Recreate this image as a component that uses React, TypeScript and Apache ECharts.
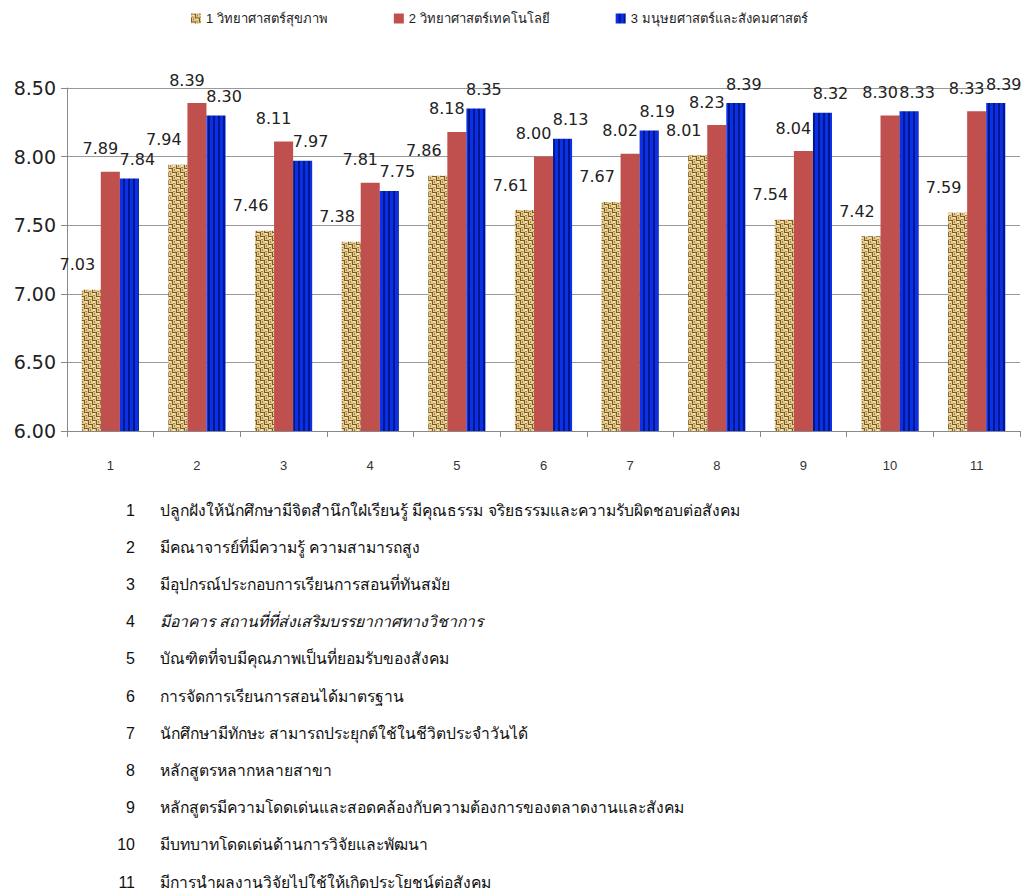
import React, { useEffect, useRef } from "react";
import * as echarts from "echarts";

const categories = ["1", "2", "3", "4", "5", "6", "7", "8", "9", "10", "11"];
const seriesNames = ["1 วิทยาศาสตร์สุขภาพ", "2 วิทยาศาสตร์เทคโนโลยี", "3 มนุษยศาสตร์และสังคมศาสตร์"];
const health = [7.03, 7.94, 7.46, 7.38, 7.86, 7.61, 7.67, 8.01, 7.54, 7.42, 7.59];
const tech = [7.89, 8.39, 8.11, 7.81, 8.18, 8.0, 8.02, 8.23, 8.04, 8.3, 8.33];
const human = [7.84, 8.3, 7.97, 7.75, 8.35, 8.13, 8.19, 8.39, 8.32, 8.33, 8.39];
const yTicks = { min: 6, max: 8.5, interval: 0.5 };
const itemDescriptions = [
  "ปลูกฝังให้นักศึกษามีจิตสำนึกใฝ่เรียนรู้ มีคุณธรรม จริยธรรมและความรับผิดชอบต่อสังคม",
  "มีคณาจารย์ที่มีความรู้ ความสามารถสูง",
  "มีอุปกรณ์ประกอบการเรียนการสอนที่ทันสมัย",
  "มีอาคาร สถานที่ที่ส่งเสริมบรรยากาศทางวิชาการ",
  "บัณฑิตที่จบมีคุณภาพเป็นที่ยอมรับของสังคม",
  "การจัดการเรียนการสอนได้มาตรฐาน",
  "นักศึกษามีทักษะ สามารถประยุกต์ใช้ในชีวิตประจำวันได้",
  "หลักสูตรหลากหลายสาขา",
  "หลักสูตรมีความโดดเด่นและสอดคล้องกับความต้องการของตลาดงานและสังคม",
  "มีบทบาทโดดเด่นด้านการวิจัยและพัฒนา",
  "มีการนำผลงานวิจัยไปใช้ให้เกิดประโยชน์ต่อสังคม",
];

function makeBurlap(): HTMLCanvasElement {
  const c = document.createElement("canvas");
  c.width = 8;
  c.height = 8;
  const g = c.getContext("2d")!;
  g.fillStyle = "#e4c88a";
  g.fillRect(0, 0, 8, 8);
  g.fillStyle = "#f3e2b4";
  g.fillRect(1, 1, 2, 2);
  g.fillRect(5, 5, 2, 2);
  g.fillStyle = "#7a5c26";
  g.fillRect(0, 0, 4, 1);
  g.fillRect(4, 0, 1, 4);
  g.fillRect(4, 4, 4, 1);
  g.fillRect(0, 4, 1, 4);
  g.fillStyle = "#a8884a";
  g.fillRect(6, 1, 1, 2);
  g.fillRect(2, 5, 1, 2);
  g.fillRect(5, 7, 2, 1);
  g.fillRect(1, 3, 2, 1);
  return c;
}

function makeStripes(): HTMLCanvasElement {
  const c = document.createElement("canvas");
  c.width = 5;
  c.height = 4;
  const g = c.getContext("2d")!;
  g.fillStyle = "#0b30e6";
  g.fillRect(0, 0, 5, 4);
  g.fillStyle = "#00188c";
  g.fillRect(3, 0, 2, 4);
  return c;
}

export default function App() {
  const ref = useRef<HTMLDivElement>(null);
  useEffect(() => {
    document.body.style.margin = "0";
    const chart = echarts.init(ref.current!, null, { renderer: "svg" });
    const burlap = { image: makeBurlap(), repeat: "repeat" } as any;
    const stripes = { image: makeStripes(), repeat: "repeat" } as any;
    const labelBase = {
      show: true,
      position: "top",
      fontFamily: "DejaVu Sans",
      fontSize: 16,
      color: "#222",
      formatter: (p: any) => Number(p.value).toFixed(2),
    };
    const listTexts: any[] = [];
    itemDescriptions.forEach((t, i) => {
      const y = 510 + i * 37.2;
      listTexts.push({
        type: "text",
        x: 135,
        y,
        style: {
          text: String(i + 1),
          fontFamily: "Liberation Sans Narrow, Liberation Sans",
          fontSize: 16,
          fill: "#111",
          align: "right",
          verticalAlign: "middle",
        },
      });
      listTexts.push({
        type: "text",
        x: 160,
        y,
        style: {
          text: t,
          fontFamily: "Liberation Sans, sans-serif",
          fontSize: 15.7,
          fontStyle: i === 3 ? "italic" : "normal",
          fill: "#111",
          align: "left",
          verticalAlign: "middle",
        },
      });
    });
    chart.setOption({
      animation: false,
      backgroundColor: "#fff",
      legend: {
        top: 7,
        left: 186,
        itemWidth: 10,
        itemHeight: 10,
        itemGap: 66,
        icon: "rect",
        textStyle: { fontSize: 13, color: "#222", fontFamily: "Liberation Sans, sans-serif" },
        data: seriesNames,
      },
      grid: { left: 67, right: 9, top: 88, bottom: 464 },
      xAxis: {
        type: "category",
        data: categories,
        axisLine: { lineStyle: { color: "#888" } },
        axisTick: { show: true, alignWithLabel: false, length: 6, lineStyle: { color: "#888" } },
        axisLabel: { margin: 28, fontSize: 13, color: "#333", fontFamily: "Liberation Sans Narrow, Liberation Sans" },
      },
      yAxis: {
        type: "value",
        min: yTicks.min,
        max: yTicks.max,
        interval: yTicks.interval,
        axisLine: { show: true, lineStyle: { color: "#888" } },
        axisTick: { show: true, length: 6, inside: false, lineStyle: { color: "#888" } },
        splitLine: { lineStyle: { color: "#999" } },
        axisLabel: {
          formatter: (v: number) => v.toFixed(2),
          fontSize: 19,
          color: "#222",
          fontFamily: "DejaVu Sans",
          margin: 11,
        },
      },
      series: [
        {
          name: seriesNames[0],
          type: "bar",
          data: health,
          barGap: "0%",
          barCategoryGap: "34%",
          itemStyle: { color: burlap },
          label: { ...labelBase, offset: [-14, -12] },
        },
        {
          name: seriesNames[1],
          type: "bar",
          data: tech,
          itemStyle: { color: "#c0504d" },
          label: { ...labelBase, offset: [-10, -10] },
        },
        {
          name: seriesNames[2],
          type: "bar",
          data: human,
          itemStyle: { color: stripes },
          label: { ...labelBase, offset: [8, -6] },
        },
      ],
      graphic: listTexts,
    });
    return () => chart.dispose();
  }, []);
  return <div ref={ref} style={{ width: 1029, height: 895 }} />;
}
